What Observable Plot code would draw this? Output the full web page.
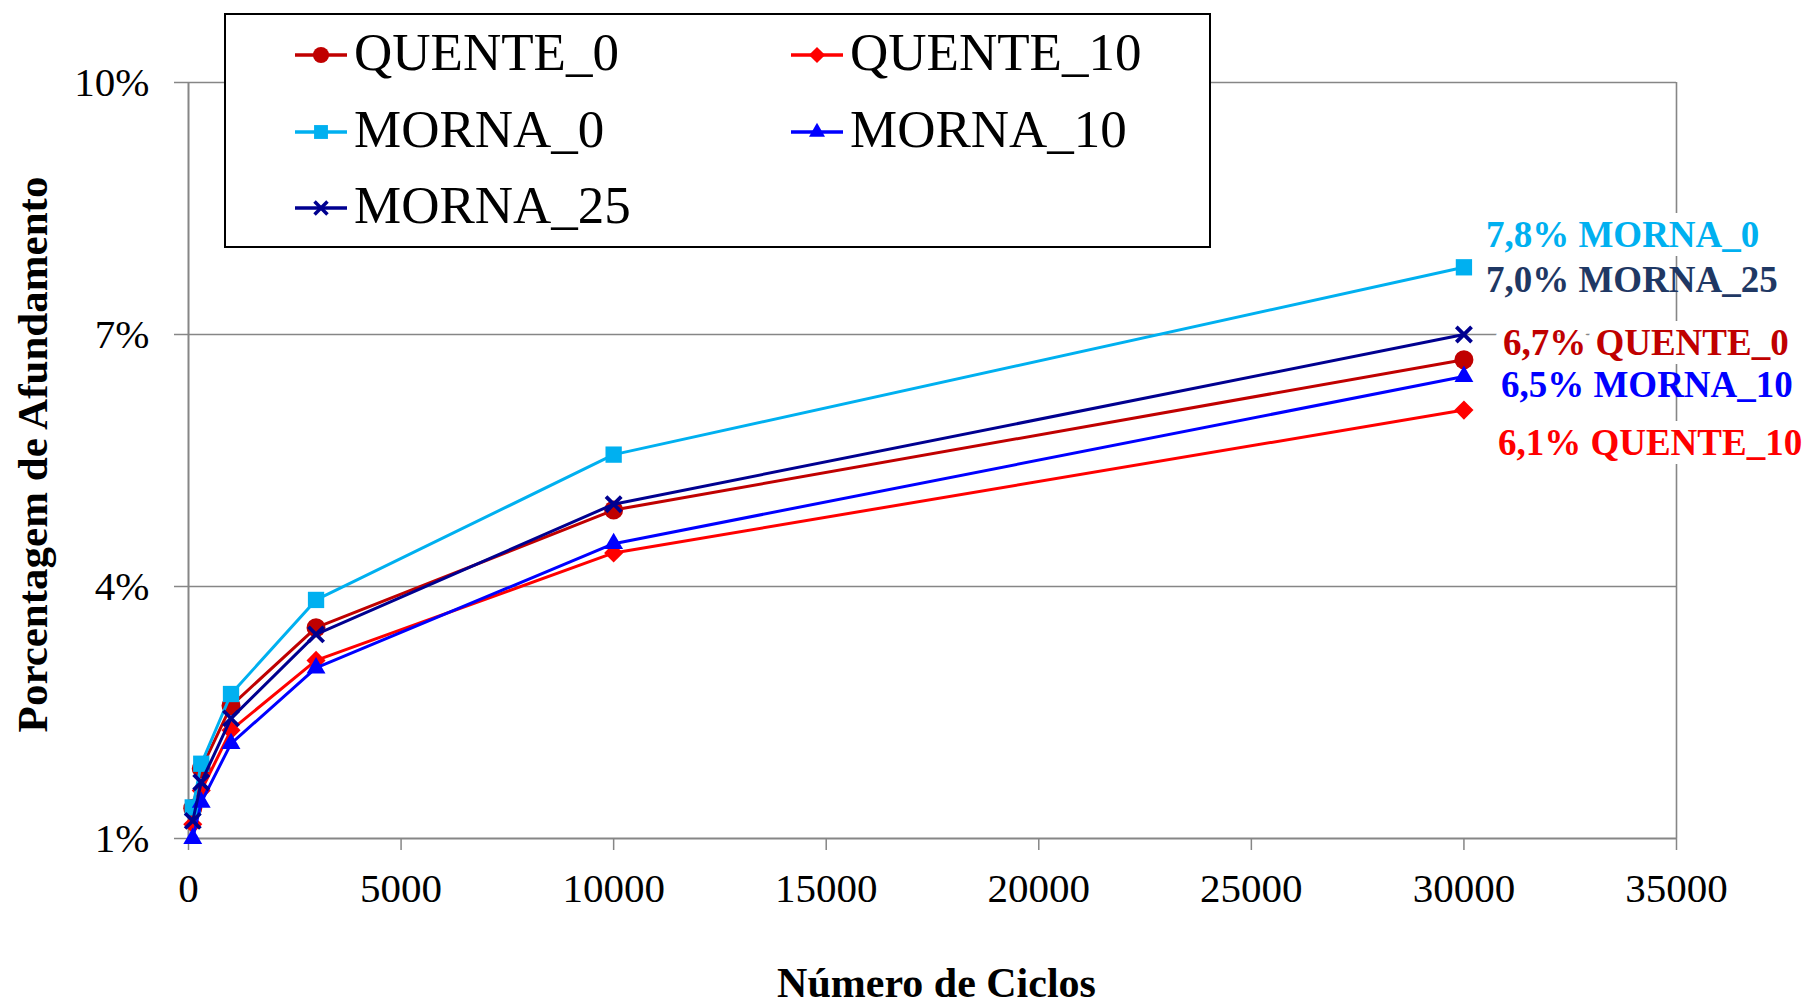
<!DOCTYPE html>
<html>
<head>
<meta charset="utf-8">
<script src="https://cdn.jsdelivr.net/npm/d3@7"></script>
<script src="https://cdn.jsdelivr.net/npm/@observablehq/plot@0.6"></script>
<style>
  html, body { margin: 0; padding: 0; background: #fff; }
  #chart { position: relative; width: 1807px; height: 1005px; }
</style>
</head>
<body>
<div id="chart"></div>
<script>
// Load cycles (x) and rut depth in percent (y) for each mixture
const cycles = [100, 300, 1000, 3000, 10000, 30000];
const seriesNames = ["QUENTE_0", "QUENTE_10", "MORNA_0", "MORNA_10", "MORNA_25"];
const quente0  = [1.36, 1.83, 2.58, 3.51, 4.91, 6.7];
const quente10 = [1.17, 1.57, 2.29, 3.12, 4.40, 6.1];
const morna0   = [1.37, 1.89, 2.72, 3.84, 5.57, 7.8];
const morna10  = [1.00, 1.43, 2.13, 3.03, 4.51, 6.5];
const morna25  = [1.21, 1.67, 2.43, 3.43, 4.98, 7.0];
const xTicks = [0, 5000, 10000, 15000, 20000, 25000, 30000, 35000];
const yTicks = [1, 4, 7, 10];
const xTitle = "Número de Ciclos";
const yTitle = "Porcentagem de Afundamento";

// Styling per series
const seriesValues = [quente0, quente10, morna0, morna10, morna25];
const look = {
  QUENTE_0:  {color: "#C00000", label: "#C00000", symbol: "circle",   r: 9.5, halo: true,  dx: 39, dy: -17},
  QUENTE_10: {color: "#FF0000", label: "#FF0000", symbol: "diamond2", r: 8.6, halo: true,  dx: 34, dy: 33},
  MORNA_0:   {color: "#00B0F0", label: "#00B0F0", symbol: "square",   r: 9.2, halo: true,  dx: 22, dy: -32},
  MORNA_10:  {color: "#0000FF", label: "#0000FF", symbol: "triangle", r: 7.0, halo: false, dx: 37, dy: 9},
  MORNA_25:  {color: "#000090", label: "#1F3864", symbol: "times",    r: 7.0, halo: false, dx: 22, dy: -54}
};
const labelOrder = ["MORNA_0", "MORNA_25", "QUENTE_0", "MORNA_10", "QUENTE_10"];

const rows = seriesNames.flatMap((s, i) =>
  cycles.map((c, j) => ({series: s, cycles: c, value: seriesValues[i][j]})));

const fmtPct = v => d3.format(".1f")(v).replace(".", ",") + "%";
const serif = "'Liberation Serif', 'Times New Roman', serif";
const axisGray = "#868686";

const seriesMarks = seriesNames.flatMap(s => {
  const d = rows.filter(r => r.series === s);
  const st = look[s];
  const dot = st.symbol === "times"
    ? Plot.dot(d, {x: "cycles", y: "value", symbol: "times", r: st.r, stroke: st.color, strokeWidth: 3.8})
    : Plot.dot(d, {x: "cycles", y: "value", symbol: st.symbol, r: st.r, fill: st.color, stroke: "none"});
  return [
    Plot.line(d, {x: "cycles", y: "value", stroke: st.color, strokeWidth: 3}),
    dot
  ];
});

const labelMarks = labelOrder.map(s => {
  const d = rows.filter(r => r.series === s && r.cycles === cycles[cycles.length - 1]);
  const st = look[s];
  return Plot.text(d, {
    x: "cycles", y: "value",
    text: r => `${fmtPct(r.value)} ${r.series}`,
    dx: st.dx, dy: st.dy,
    textAnchor: "start",
    lineAnchor: "middle",
    fill: st.label,
    fontWeight: "bold",
    fontSize: 37,
    fontFamily: serif,
    ...(st.halo ? {stroke: "white", strokeWidth: 18, strokeLinejoin: "round", paintOrder: "stroke"} : {})
  });
});

const chart = Plot.plot({
  width: 1807,
  height: 1005,
  marginLeft: 188,
  marginRight: 131,
  marginTop: 82,
  marginBottom: 167,
  style: {fontFamily: serif, fontSize: "41px", color: "black", background: "white"},
  x: {domain: [0, 35000]},
  y: {domain: [1, 10]},
  marks: [
    Plot.gridY([4, 7, 10], {stroke: axisGray, strokeOpacity: 1, strokeWidth: 1.6}),
    Plot.ruleX([35000], {stroke: axisGray, strokeWidth: 1.6}),
    Plot.ruleX([0], {stroke: axisGray, strokeWidth: 2}),
    Plot.ruleY([1], {stroke: axisGray, strokeWidth: 2}),
    Plot.axisX({ticks: xTicks, tickFormat: d3.format("d"), tickSize: 12, tickPadding: 22,
                stroke: axisGray, strokeWidth: 1.5, fill: "black", fontSize: 41, label: null}),
    Plot.axisY({ticks: yTicks, tickFormat: d => `${d}%`, tickSize: 14, tickPadding: 25,
                stroke: axisGray, strokeWidth: 1.5, fill: "black", fontSize: 41, label: null}),
    ...seriesMarks,
    ...labelMarks,
    Plot.text([xTitle], {text: d => d, frameAnchor: "bottom", textAnchor: "middle", lineAnchor: "middle",
                         dx: 4, dy: 145, fontWeight: "bold", fontSize: 42, fontFamily: serif, fill: "black"}),
    Plot.text([yTitle], {text: d => d, frameAnchor: "left", textAnchor: "middle", lineAnchor: "middle",
                         rotate: -90, dx: -155, dy: -6,
                         fontWeight: "bold", fontSize: 43, fontFamily: serif, fill: "black"})
  ]
});

const host = document.getElementById("chart");
host.appendChild(chart);

// Legend box sitting over the upper-left part of the plot area
const symbolTypes = {
  circle: d3.symbolCircle, diamond2: d3.symbolDiamond2, square: d3.symbolSquare,
  triangle: d3.symbolTriangle, times: d3.symbolTimes
};
const legend = d3.select(host).append("svg")
  .attr("width", 988).attr("height", 236)
  .style("position", "absolute").style("left", "224px").style("top", "13px");
legend.append("rect")
  .attr("x", 1).attr("y", 1).attr("width", 985).attr("height", 233)
  .attr("fill", "white").attr("stroke", "black").attr("stroke-width", 2);

const colX = [71, 567];
const rowY = [42, 119, 195];
seriesNames.forEach((s, i) => {
  const st = look[s];
  const x0 = colX[i % 2], cy = rowY[Math.floor(i / 2)];
  const g = legend.append("g");
  g.append("line")
    .attr("x1", x0).attr("x2", x0 + 52).attr("y1", cy).attr("y2", cy)
    .attr("stroke", st.color).attr("stroke-width", 3.5);
  const r = st.r * 0.85;
  const p = g.append("path")
    .attr("transform", `translate(${x0 + 26},${cy})`)
    .attr("d", d3.symbol(symbolTypes[st.symbol], Math.PI * r * r)());
  if (st.symbol === "times") p.attr("fill", "none").attr("stroke", st.color).attr("stroke-width", 3.5);
  else p.attr("fill", st.color);
  g.append("text")
    .attr("x", x0 + 59).attr("y", cy + 15)
    .attr("font-family", serif).attr("font-size", 53).attr("fill", "black")
    .text(s);
});
</script>
</body>
</html>
